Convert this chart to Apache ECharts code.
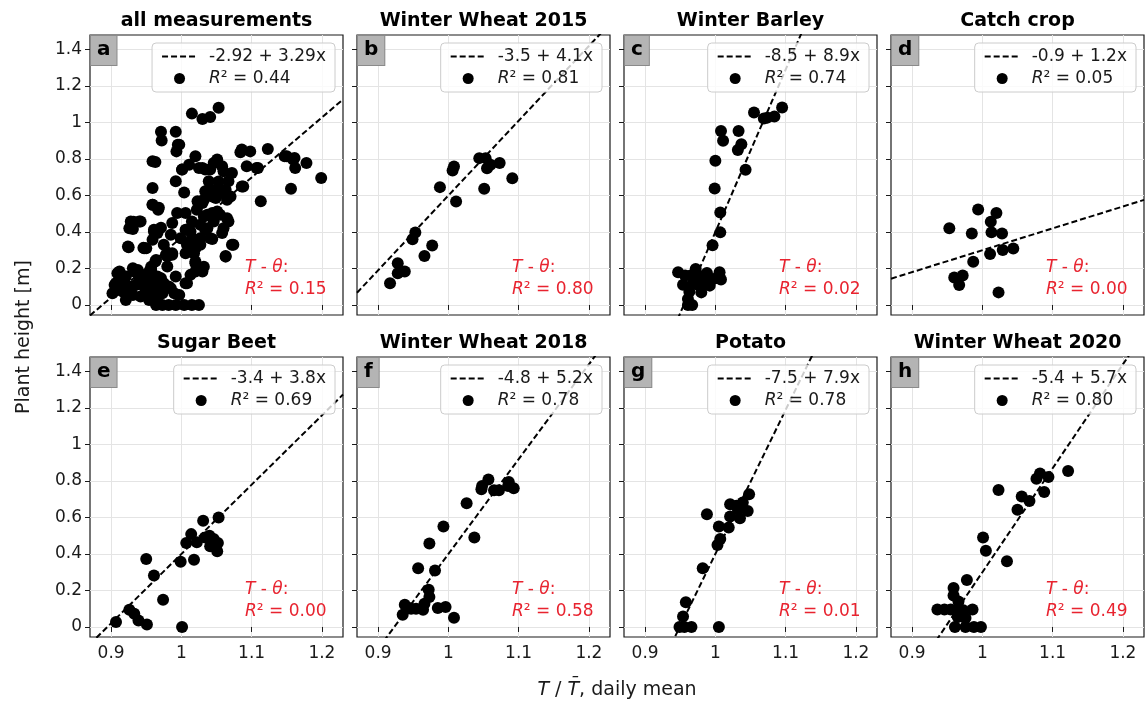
<!DOCTYPE html>
<html>
<head>
<meta charset="utf-8">
<script src="https://cdn.jsdelivr.net/npm/echarts@6/dist/echarts.min.js"></script>
<style>
  html, body { margin: 0; padding: 0; background: #ffffff; }
  #chart { width: 1147px; height: 704px; }
</style>
</head>
<body>
<div id="chart"></div>
<script>
// ---- data ---------------------------------------------------------------
const panelTitles = ['all measurements', 'Winter Wheat 2015', 'Winter Barley', 'Catch crop',
                     'Sugar Beet', 'Winter Wheat 2018', 'Potato', 'Winter Wheat 2020'];
const panelLetters = ['a', 'b', 'c', 'd', 'e', 'f', 'g', 'h'];

// linear fit  height = intercept + slope * (T / Tmean)
const fitIntercepts = [-2.92, -3.5, -8.5, -0.9, -3.4, -4.8, -7.5, -5.4];
const fitSlopes     = [3.29, 4.1, 8.9, 1.2, 3.8, 5.2, 7.9, 5.7];
const fitLabels     = ['-2.92 + 3.29x', '-3.5 + 4.1x', '-8.5 + 8.9x', '-0.9 + 1.2x',
                       '-3.4 + 3.8x', '-4.8 + 5.2x', '-7.5 + 7.9x', '-5.4 + 5.7x'];
const fitR2         = ['0.44', '0.81', '0.74', '0.05', '0.69', '0.78', '0.78', '0.80'];
// coefficient of determination of the T - theta relation
const tempThetaR2   = ['0.15', '0.80', '0.02', '0.00', '0.00', '0.58', '0.01', '0.49'];

const xTicks = [0.9, 1, 1.1, 1.2];
const yTicks = [0, 0.2, 0.4, 0.6, 0.8, 1, 1.2, 1.4];
const X_MIN = 0.87, X_MAX = 1.23;
const Y_MIN = -0.055, Y_MAX = 1.48;

// [T / Tmean, plant height in m]
const ptsAll = [
  [1.015,1.049],[1.030,1.020],[1.041,1.031],[1.053,1.081],[0.971,0.949],[0.972,0.901],[0.992,0.949],
  [0.997,0.879],[0.993,0.842],[0.963,0.784],[1.020,0.815],[1.084,0.837],[1.098,0.842],[1.123,0.855],
  [1.147,0.815],[1.161,0.806],[1.162,0.751],[1.178,0.778],[1.199,0.696],[1.156,0.637],[1.113,0.568],
  [1.093,0.760],[1.109,0.751],[1.088,0.650],[0.992,0.678],[1.004,0.617],[0.959,0.641],[0.959,0.549],
  [0.967,0.522],[1.001,0.742],[1.011,0.769],[1.025,0.751],[1.034,0.742],[1.046,0.778],[1.051,0.797],
  [1.058,0.760],[1.072,0.723],[1.067,0.678],[1.039,0.678],[1.034,0.623],[1.044,0.595],[1.053,0.623],
  [1.063,0.632],[1.070,0.595],[1.030,0.559],[1.022,0.522],[1.032,0.485],[1.044,0.504],[1.055,0.495],
  [1.046,0.458],[1.067,0.458],[1.034,0.412],[1.027,0.366],[1.044,0.361],[1.058,0.394],[1.072,0.330],
  [1.063,0.269],[1.006,0.504],[1.015,0.458],[0.994,0.504],[0.987,0.449],[1.006,0.412],[1.015,0.366],
  [1.020,0.311],[1.006,0.284],[0.985,0.385],[0.975,0.330],[0.966,0.394],[0.961,0.403],[0.942,0.458],
  [0.931,0.416],[0.950,0.311],[0.925,0.317],[0.978,0.275],[0.987,0.275],[0.980,0.211],[0.992,0.156],
  [1.006,0.119],[1.020,0.229],[1.020,0.183],[1.030,0.183],[0.963,0.238],[0.957,0.192],[0.959,0.550],
  [0.968,0.533],[0.932,0.456],[0.946,0.313],
  [0.928,0.458],[0.940,0.458],[0.926,0.421],[0.947,0.311],[0.924,0.320],[0.961,0.412],[0.971,0.423],
  [0.959,0.357],[0.987,0.284],[0.980,0.265],[0.964,0.247],[0.957,0.210],[0.912,0.183],[0.907,0.121],
  [0.919,0.156],[0.933,0.183],[0.942,0.147],[0.952,0.165],[0.966,0.156],[0.975,0.119],[0.985,0.092],
  [0.997,0.055],[0.928,0.073],[0.947,0.055],[0.966,0.037],[1.008,0.119],[1.013,0.165],[1.023,0.210],
  [1.032,0.210],[1.020,0.238],[1.008,0.330],[0.999,0.366],[1.013,0.403],[1.027,0.440],[1.037,0.495],
  [1.051,0.513],[1.065,0.476],[1.060,0.421],[1.041,0.366],[1.037,0.421],[1.027,0.330],[1.018,0.284],
  [1.074,0.330],[1.063,0.265],[1.023,0.568],[1.049,0.586],[1.065,0.577],
  [0.959,0.788],[0.995,0.879],[1.001,0.742],[1.030,0.751],[1.041,0.742],[1.060,0.733],[1.053,0.677],
  [1.039,0.632],[1.049,0.632],[1.058,0.614],[1.032,0.577],[1.086,0.852],[1.107,0.751],[1.086,0.650],
  [1.150,0.815],[1.159,0.797],
  [0.909,0.174],[0.905,0.110],[0.902,0.064],[0.914,0.119],[0.921,0.156],[0.931,0.201],[0.938,0.192],
  [0.945,0.156],[0.926,0.101],[0.935,0.110],[0.947,0.101],[0.954,0.128],[0.959,0.082],[0.966,0.101],
  [0.973,0.064],[0.917,0.073],[0.931,0.055],[0.942,0.046],[0.954,0.027],[0.964,0.000],[0.973,0.000],
  [0.982,0.000],[0.992,0.000],[1.004,0.000],[1.015,0.000],[1.025,0.000],[0.990,0.064],[0.982,0.101],
  [0.950,0.064],[0.921,0.027],[0.909,0.082],[0.940,0.147],[0.971,0.147],[0.952,0.174]
];
const ptsWheat2015 = [
  [0.917,0.119],[0.928,0.174],[0.938,0.183],[0.928,0.229],[0.949,0.360],[0.953,0.397],[0.966,0.269],
  [0.977,0.326],[0.988,0.646],[1.006,0.737],[1.008,0.759],[1.011,0.567],[1.044,0.805],[1.053,0.805],
  [1.051,0.637],[1.055,0.750],[1.060,0.769],[1.073,0.778],[1.091,0.695]
];
const ptsBarley = [
  [1.055,1.055],[1.069,1.022],[1.084,1.033],[1.095,1.082],[1.074,1.027],[1.008,0.954],[1.011,0.900],
  [1.033,0.954],[1.037,0.881],[1.032,0.850],[1.000,0.790],[1.043,0.741],[0.999,0.639],[1.007,0.507],
  [1.007,0.398],[0.996,0.328],
  [0.947,0.179],[0.954,0.111],[0.965,0.161],[0.972,0.197],[0.973,0.151],[0.982,0.157],[0.980,0.069],
  [0.992,0.106],[0.997,0.142],[1.006,0.179],[1.008,0.139],[0.963,0.073],[0.961,0.033],[0.967,0.000],
  [0.961,0.000],[0.957,0.161],[0.968,0.115],[0.985,0.124],[0.977,0.106],[0.988,0.175]
];
const ptsCatchCrop = [
  [0.953,0.420],[0.994,0.524],[1.020,0.504],[1.012,0.456],[0.985,0.392],[1.013,0.398],[1.028,0.392],
  [1.011,0.279],[1.029,0.301],[1.044,0.310],[0.987,0.237],[0.960,0.151],[0.972,0.161],[0.967,0.109],
  [1.023,0.069]
];
const ptsSugarBeet = [
  [0.907,0.027],[0.926,0.095],[0.933,0.073],[0.939,0.036],[0.951,0.013],[0.950,0.373],[0.961,0.282],
  [0.974,0.149],[1.001,0.000],[0.999,0.358],[1.018,0.369],[1.007,0.460],[1.014,0.509],[1.022,0.464],
  [1.031,0.582],[1.034,0.491],[1.040,0.500],[1.041,0.442],[1.051,0.415],[1.052,0.460],[1.053,0.600],
  [1.046,0.482]
];
const ptsWheat2018 = [
  [0.935,0.067],[0.938,0.122],[0.947,0.100],[0.954,0.100],[0.964,0.095],[0.966,0.127],[0.973,0.164],
  [0.972,0.204],[0.957,0.322],[0.973,0.458],[0.981,0.309],[0.985,0.104],[0.996,0.109],[1.008,0.051],
  [0.993,0.551],[1.026,0.678],[1.037,0.491],[1.047,0.755],[1.048,0.773],[1.057,0.809],[1.065,0.749],
  [1.072,0.749],[1.085,0.773],[1.086,0.795],[1.093,0.760],[0.944,0.104]
];
const ptsPotato = [
  [0.949,0.000],[0.956,0.000],[0.966,0.000],[0.954,0.058],[0.958,0.136],[0.982,0.322],[0.988,0.618],
  [1.005,0.000],[1.003,0.449],[1.007,0.482],[1.005,0.551],[1.019,0.545],[1.021,0.605],[1.021,0.673],
  [1.030,0.664],[1.035,0.596],[1.039,0.682],[1.046,0.636],[1.048,0.727],[1.032,0.645]
];
const ptsWheat2020 = [
  [1.122,0.855],[1.077,0.813],[1.082,0.842],[1.094,0.822],[1.088,0.740],[1.023,0.751],[1.056,0.715],
  [1.067,0.691],[1.050,0.642],[1.001,0.491],[1.005,0.418],[1.035,0.360],[0.978,0.258],[0.959,0.213],
  [0.959,0.173],[0.936,0.096],[0.946,0.096],[0.955,0.096],[0.967,0.096],[0.973,0.091],[0.986,0.096],
  [0.966,0.140],[0.976,0.049],[0.961,0.000],[0.976,0.000],[0.988,0.000],[0.998,0.000],[0.965,0.055]
];
const panelPoints = [ptsAll, ptsWheat2015, ptsBarley, ptsCatchCrop,
                     ptsSugarBeet, ptsWheat2018, ptsPotato, ptsWheat2020];

// ---- layout -------------------------------------------------------------
const W = 1147;
const COL_LEFT = [90, 357, 624, 891];
const ROW_TOP = [35, 357];
const PW = 253, PH = 280;
const FONT = 'DejaVu Sans';
const RED = '#e8232f';

const grids = [], xAxes = [], yAxes = [], series = [], legends = [], graphics = [];

panelTitles.forEach((title, i) => {
  const row = Math.floor(i / 4), col = i % 4;
  const left = COL_LEFT[col], top = ROW_TOP[row];

  grids.push({ left, top, width: PW, height: PH, show: true,
               borderColor: '#1a1a1a', borderWidth: 1.2, backgroundColor: '#ffffff' });

  xAxes.push({
    gridIndex: i, type: 'value', min: X_MIN, max: X_MAX, splitNumber: 4,
    axisLine: { show: false },
    axisTick: { show: true, length: 5, customValues: xTicks, lineStyle: { color: '#1a1a1a', width: 1 } },
    axisLabel: { show: row === 1, customValues: xTicks, fontSize: 17, fontFamily: FONT,
                 color: '#1a1a1a', margin: 8 },
    splitLine: { show: true, lineStyle: { color: '#e4e4e4', width: 1 } }
  });
  yAxes.push({
    gridIndex: i, type: 'value', min: Y_MIN, max: Y_MAX, splitNumber: 7,
    axisLine: { show: false },
    axisTick: { show: true, length: 5, customValues: yTicks, lineStyle: { color: '#1a1a1a', width: 1 } },
    axisLabel: { show: col === 0, customValues: yTicks, fontSize: 17, fontFamily: FONT,
                 color: '#1a1a1a', margin: 8 },
    splitLine: { show: true, lineStyle: { color: '#e4e4e4', width: 1 } }
  });

  const fitName = 'fit-' + i, ptsName = 'pts-' + i;
  series.push({
    name: ptsName, type: 'scatter', xAxisIndex: i, yAxisIndex: i,
    data: panelPoints[i], symbolSize: 12, silent: true,
    itemStyle: { color: '#000000', opacity: 1 }, z: 2
  });
  const a = fitIntercepts[i], b = fitSlopes[i];
  series.push({
    name: fitName, type: 'line', xAxisIndex: i, yAxisIndex: i,
    data: [[X_MIN, a + b * X_MIN], [X_MAX, a + b * X_MAX]],
    symbol: 'none', silent: true, clip: true,
    lineStyle: { color: '#000000', width: 2, type: [6, 3] }, z: 3
  });

  legends.push({
    orient: 'vertical', right: W - (left + PW) + 8, top: top + 8,
    data: [{ name: fitName, itemStyle: { opacity: 0 } }, { name: ptsName }],
    selectedMode: false, itemWidth: 35, itemHeight: 11, itemGap: 5,
    padding: [5, 9, 5, 9],
    backgroundColor: 'rgba(255,255,255,0.8)', borderColor: '#cccccc', borderWidth: 1, borderRadius: 4,
    formatter: name => name === fitName ? fitLabels[i] : '{i|R}\u00b2 = ' + fitR2[i],
    textStyle: { fontSize: 17, fontFamily: FONT, color: '#1a1a1a', padding: [0, 0, 0, 7],
                 rich: { i: { fontSize: 17, fontFamily: FONT, fontStyle: 'italic', color: '#1a1a1a' } } }
  });

  // panel title
  graphics.push({
    type: 'text', x: left + PW / 2, y: top - 4, z: 10,
    style: { text: title, fontSize: 19, fontWeight: 'bold', fontFamily: FONT, fill: '#000000',
             align: 'center', verticalAlign: 'bottom' }
  });
  // panel letter box
  graphics.push({
    type: 'text', x: left + 1, y: top + 1, z: 10,
    style: { text: panelLetters[i], fontSize: 20, fontWeight: 'bold', fontFamily: FONT, fill: '#000000',
             align: 'left', verticalAlign: 'top', backgroundColor: '#b4b4b4',
             borderColor: '#8a8a8a', borderWidth: 1, padding: [4, 6, 5, 6] }
  });
  // T - theta annotation
  graphics.push({
    type: 'text', x: left + 155, y: top + 222, z: 10,
    style: { text: '{i|T} - {i|\u03b8}:\n{i|R}\u00b2 = ' + tempThetaR2[i],
             fontSize: 17, fontFamily: FONT, fill: RED, lineHeight: 22,
             align: 'left', verticalAlign: 'top',
             rich: { i: { fontSize: 17, fontFamily: FONT, fontStyle: 'italic', fill: RED, lineHeight: 22 } } }
  });
});

// shared axis names
graphics.push({
  type: 'text', x: 24, y: 337, rotation: Math.PI / 2, z: 10,
  style: { text: 'Plant height [m]', fontSize: 19, fontFamily: FONT, fill: '#1a1a1a',
           align: 'center', verticalAlign: 'middle' }
});
graphics.push({
  type: 'text', x: 617, y: 690, z: 10,
  style: { text: '{i|T} / {i|T\u0304}, daily mean', fontSize: 19, fontFamily: FONT, fill: '#1a1a1a',
           align: 'center', verticalAlign: 'middle',
           rich: { i: { fontSize: 19, fontFamily: FONT, fontStyle: 'italic', fill: '#1a1a1a' } } }
});

const chart = echarts.init(document.getElementById('chart'), null, { renderer: 'canvas' });
chart.setOption({
  animation: false,
  backgroundColor: '#ffffff',
  grid: grids,
  xAxis: xAxes,
  yAxis: yAxes,
  legend: legends,
  series: series,
  graphic: graphics
});
</script>
</body>
</html>
